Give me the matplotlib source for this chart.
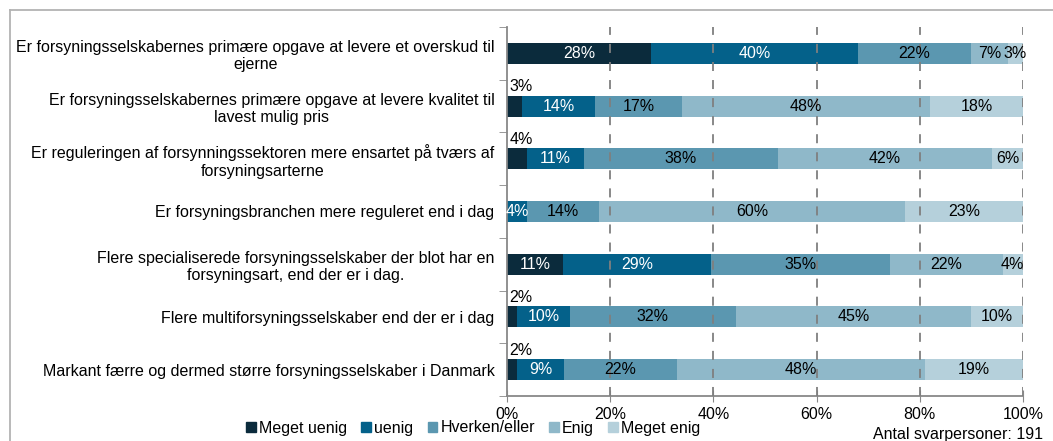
import matplotlib.pyplot as plt
import numpy as np
from matplotlib.lines import Line2D

plt.rcParams['font.family'] = ['Liberation Sans', 'DejaVu Sans']

questions = [
    "Er forsyningsselskabernes primære opgave at levere et overskud til\nejerne",
    "Er forsyningsselskabernes primære opgave at levere kvalitet til\nlavest mulig pris",
    "Er reguleringen af forsynningssektoren mere ensartet på tværs af\nforsyningsarterne",
    "Er forsyningsbranchen mere reguleret end i dag",
    "Flere specialiserede forsyningsselskaber der blot har en\nforsyningsart, end der er i dag.",
    "Flere multiforsyningsselskaber end der er i dag",
    "Markant færre og dermed større forsyningsselskaber i Danmark",
]
answers = ["Meget uenig", "uenig", "Hverken/eller", "Enig", "Meget enig"]
meget_uenig = [28, 3, 4, 0, 11, 2, 2]
uenig = [40, 14, 11, 4, 29, 10, 9]
hverken = [22, 17, 38, 14, 35, 32, 22]
enig = [7, 48, 42, 60, 22, 45, 48]
meget_enig = [3, 18, 6, 23, 4, 10, 19]
n_resp = 191

colors = ["#0b2b3c", "#04618a", "#5b97b0", "#8fb8c9", "#b5d0db"]
txtcol = ["white", "white", "black", "black", "black"]
fs = 11.5

vals = np.array([meget_uenig, uenig, hverken, enig, meget_enig], dtype=float)
widths = vals / vals.sum(axis=0) * 100

fig = plt.figure(figsize=(10.53, 4.41), dpi=100)
ax = fig.add_axes([507/1053, 1-396/441, 516/1053, 369/441])

y = np.arange(len(questions))
left = np.zeros(len(questions))
for i in range(5):
    ax.barh(y, widths[i], left=left, height=0.4, color=colors[i], zorder=2)
    for j in range(len(questions)):
        v = vals[i, j]
        if v == 0:
            continue
        cx = left[j] + widths[i, j] / 2
        if i == 0 and v < 5:
            ax.text(2.7, y[j] - 0.23, f"{int(v)}%", ha='center', va='bottom',
                    fontsize=fs, color='black', zorder=4)
        else:
            ax.text(cx, y[j], f"{int(v)}%", ha='center', va='center',
                    fontsize=fs, color=txtcol[i], zorder=4)
    left += widths[i]

for gx in [20, 40, 60, 80, 100]:
    ax.axvline(gx, color='#7f7f7f', lw=1.3, ls=(0, (5, 5)), zorder=3)

ax.set_xlim(0, 100)
ax.set_ylim(len(questions) - 0.5, -0.5)
ax.set_xticks([0, 20, 40, 60, 80, 100])
ax.set_xticklabels([f"{t}%" for t in [0, 20, 40, 60, 80, 100]], fontsize=fs)
ax.set_yticks(y)
ax.set_yticklabels(questions, fontsize=fs)
for lab in ax.get_yticklabels():
    lab.set_multialignment('center')
ax.set_yticks(np.arange(-0.5, len(questions)), minor=True)
ax.tick_params(axis='y', which='major', length=0, pad=9)
ax.tick_params(axis='y', which='minor', length=6, color='#888888', direction='out')
ax.tick_params(axis='x', which='major', length=8, color='#888888', direction='inout', pad=4)
for s in ['top', 'right']:
    ax.spines[s].set_visible(False)
for s in ['left', 'bottom']:
    ax.spines[s].set_color('#888888')
    ax.spines[s].set_linewidth(1.3)

handles = [plt.Rectangle((0, 0), 1, 1, color=c) for c in colors]
fig.legend(handles, answers, loc='center left', bbox_to_anchor=(246/1053, 1-428/441),
           ncol=5, frameon=False, fontsize=fs, handlelength=0.6, handleheight=0.6,
           handletextpad=0.2, columnspacing=0.9, borderaxespad=0, borderpad=0)

fig.text(1043/1053, 1-435/441, f"Antal svarpersoner: {n_resp}", ha='right', va='center', fontsize=fs)

fig.add_artist(Line2D([10/1053, 1], [1-10/441, 1-10/441], color='#b3b3b3', lw=1.3))
fig.add_artist(Line2D([10/1053, 10/1053], [1-10/441, 0], color='#b3b3b3', lw=1.3))

fig.savefig("out.png", dpi=100)
